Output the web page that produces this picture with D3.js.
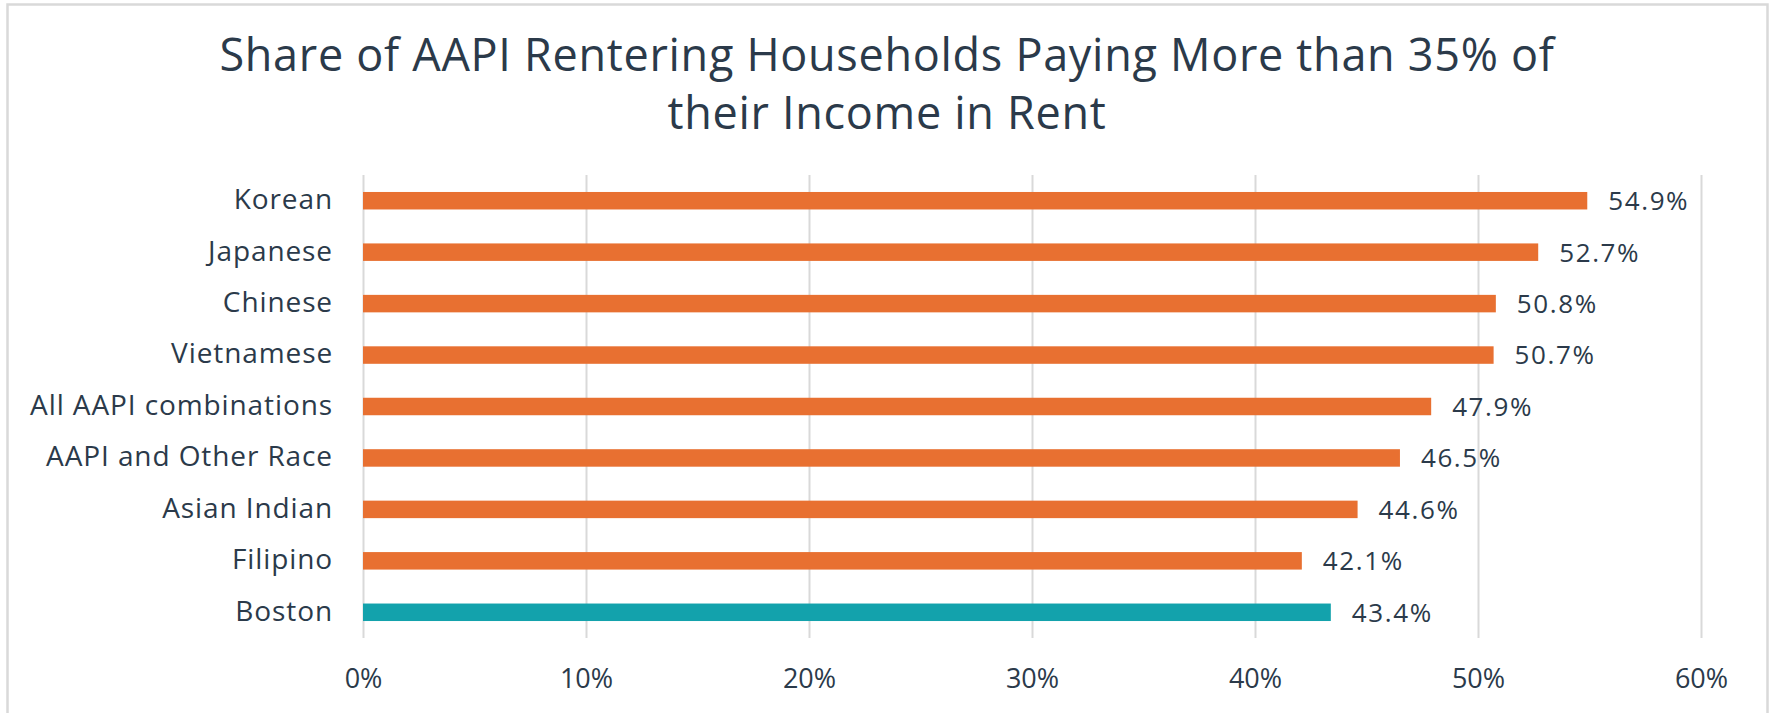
<!DOCTYPE html>
<html>
<head>
<meta charset="utf-8">
<script src="https://cdn.jsdelivr.net/npm/d3@7"></script>
<style>
	body { margin: 0; background: #ffffff; }
	text { font-family: "Open Sans", "Noto Sans", sans-serif; fill: #2b3a4a; }
</style>
</head>
<body>
<div id="chart"></div>
<script>
/*
 Horizontal bar chart: share of AAPI renter households
 that pay more than 35% of their income in rent.
*/

// categories, top to bottom
var categories = ["Korean", "Japanese", "Chinese", "Vietnamese", "All AAPI combinations",
	"AAPI and Other Race", "Asian Indian", "Filipino", "Boston"];
// percent values
var shares = [54.9, 52.7, 50.8, 50.7, 47.9, 46.5, 44.6, 42.1, 43.4];
// x-axis ticks (percent)
var x_ticks = [0, 10, 20, 30, 40, 50, 60];
// the reference group, drawn in teal
var reference_group = "Boston";
var title_lines = ["Share of AAPI Rentering Households Paying More than 35% of",
	"their Income in Rent"];

var width = 1770;
var height = 713;
var margin = {top: 175, right: 69, bottom: 75, left: 363};

var data = categories.map(function(c, i) {
	return {name: c, value: shares[i]};
});

var svg = d3.select("#chart").append("svg")
	.attr("width", width)
	.attr("height", height);

// outer frame
svg.append("rect")
	.attr("x", 7.5)
	.attr("y", 4.5)
	.attr("width", 1760)
	.attr("height", 720)
	.attr("fill", "#ffffff")
	.attr("stroke", "#d9d9d9")
	.attr("stroke-width", 2.5);

//scales
var x_scale = d3.scaleLinear()
	.domain([0, d3.max(x_ticks)])
	.range([margin.left, width - margin.right]);

var y_scale = d3.scaleBand()
	.domain(categories)
	.range([margin.top, height - margin.bottom])
	.paddingInner(0.66)
	.paddingOuter(0.33);

/*
 ####################
 grid lines, drawn with the bottom axis and a negative tick size
*/
var grid = svg.append("g")
	.attr("class", "grid_lines")
	.attr("transform", "translate(0," + (height - margin.bottom) + ")")
	.call(d3.axisBottom(x_scale)
		.tickValues(x_ticks)
		.tickSize(-(height - margin.top - margin.bottom))
		.tickFormat(""));
grid.select(".domain").remove();
grid.selectAll(".tick line")
	.attr("stroke", "#d9d9d9")
	.attr("stroke-width", 2);

// x axis labels
var x_axis = svg.append("g")
	.attr("class", "x_axis")
	.attr("transform", "translate(0," + (height - margin.bottom) + ")")
	.call(d3.axisBottom(x_scale)
		.tickValues(x_ticks)
		.tickSize(0)
		.tickPadding(31)
		.tickFormat(function(d) { return d + "%"; }));
x_axis.select(".domain").remove();
x_axis.selectAll("text")
	.attr("font-size", "27px")
	.attr("font-family", null)
	.attr("fill", "#2b3a4a");

// y axis labels
var y_axis = svg.append("g")
	.attr("class", "y_axis")
	.attr("transform", "translate(" + margin.left + ",0)")
	.call(d3.axisLeft(y_scale)
		.tickSize(0)
		.tickPadding(30));
y_axis.select(".domain").remove();
y_axis.selectAll("text")
	.attr("font-size", "28px")
	.attr("letter-spacing", "0.9px")
	.attr("font-family", null)
	.attr("fill", "#2b3a4a")
	.attr("dy", "0.3em");
/*
 ####################
*/

// bars
svg.append("g").attr("class", "bars")
	.selectAll("rect")
	.data(data)
	.enter()
	.append("rect")
	.attr("x", x_scale(0))
	.attr("y", function(d) { return y_scale(d.name); })
	.attr("width", function(d) { return x_scale(d.value) - x_scale(0); })
	.attr("height", y_scale.bandwidth())
	.attr("fill", function(d) {
		return d.name == reference_group ? "#13a2ac" : "#e87031";
	});

// value labels at the end of each bar
svg.append("g").attr("class", "bar_labels")
	.selectAll("text")
	.data(data)
	.enter()
	.append("text")
	.attr("x", function(d) { return x_scale(d.value) + 21; })
	.attr("y", function(d) { return y_scale(d.name) + y_scale.bandwidth() / 2; })
	.attr("dy", "0.36em")
	.attr("font-size", "26px")
	.attr("letter-spacing", "1.6px")
	.text(function(d) { return d.value.toFixed(1) + "%"; });

// title
svg.append("g").attr("class", "title")
	.selectAll("text")
	.data(title_lines)
	.enter()
	.append("text")
	.attr("x", 887)
	.attr("y", function(d, i) { return 71 + i * 58; })
	.attr("text-anchor", "middle")
	.attr("font-size", "45px")
	.attr("letter-spacing", "0.7px")
	.attr("fill", "#1f3447")
	.text(function(d) { return d; });
</script>
</body>
</html>
